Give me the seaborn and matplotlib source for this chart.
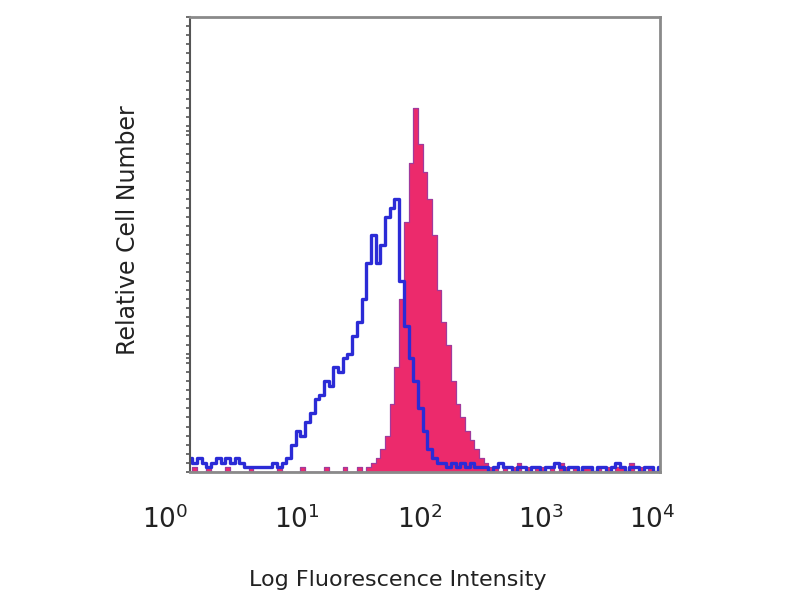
import numpy as np
import matplotlib
matplotlib.use("Agg")
import matplotlib.pyplot as plt
import seaborn as sns
from matplotlib.ticker import MultipleLocator, LogLocator, NullFormatter

# bin centres in decades (log10 of intensity), 0.04 decade wide
log_bins = np.round(np.arange(0, 4.0001, 0.04), 2)

# isotype control (blue outline)
control_counts = [
    3, 2, 3, 2, 1, 2, 3, 2, 3, 2, 3, 2, 1, 1, 1, 1, 1, 1, 2, 1, 2, 3,
    6, 9, 8, 11, 13, 16, 17, 20, 19, 23, 22, 25, 26, 30, 33, 38, 46, 52,
    46, 50, 56, 58, 60, 42, 32, 25, 20, 14, 9, 5, 3, 2, 2, 1, 2, 1, 2, 1,
    2, 1,
    1, 1, 0, 1, 2, 1, 1, 0, 1, 1, 0, 1, 1, 0, 1, 1, 2, 1, 0, 1, 1, 0, 1, 1,
    0, 1, 1, 0, 1, 2, 1, 0, 1, 1, 0, 1, 1, 0, 1,
]

# stained sample (pink filled)
stained_counts = [
    0, 1, 0, 0, 1, 0, 0, 0, 1, 0, 0, 0, 0, 1, 0, 0, 0, 0, 0, 1, 0, 0,
    0, 0, 1, 0, 0, 0, 0, 1, 0, 0, 0, 1, 0, 0, 1, 0, 1,
    2, 3, 5, 8, 15, 23, 38, 55, 68, 80, 72, 66, 60, 52, 40, 33, 28, 20, 15,
    12, 9, 7, 5, 3, 2, 1,
    1, 0, 1, 0, 1, 2, 0, 1, 0, 1, 1, 0, 1, 0, 2, 1, 0, 1, 0, 1, 1, 0, 1, 0,
    1, 0, 1, 1, 0, 2, 0, 1, 0, 1, 0, 1,
]

tick_texts = ["$10^0$", "$10^1$", "$10^2$", "$10^3$", "$10^4$"]
tick_xpos = [165, 297, 420, 541, 652]  # pixel centres of the big labels

intensity = 10 ** log_bins

sns.set_style("white")
fig = plt.figure(figsize=(8, 6), dpi=100)
ax = fig.add_axes([190 / 800, 1 - 472 / 600, 470 / 800, 455 / 600])

sns.histplot(x=intensity, weights=stained_counts, log_scale=True,
             binwidth=0.04, binrange=(-0.02, 4.02), element="step",
             fill=True, color="#ec2a6c", alpha=1.0, edgecolor="#a03a9c",
             linewidth=0.9, ax=ax)
sns.histplot(x=intensity, weights=control_counts, log_scale=True,
             binwidth=0.04, binrange=(-0.02, 4.02), element="step",
             fill=False, color="#2b2bd6", linewidth=2.4, ax=ax)

ax.set_xlim(1, 1e4)
ax.set_ylim(0, 100)
ax.set_xlabel("")
ax.set_ylabel("")

ax.xaxis.set_major_locator(LogLocator(base=10, numticks=10))
ax.xaxis.set_minor_locator(LogLocator(base=10, subs=np.arange(2, 10), numticks=20))
ax.xaxis.set_major_formatter(NullFormatter())
ax.xaxis.set_minor_formatter(NullFormatter())
ax.yaxis.set_major_locator(MultipleLocator(25))
ax.yaxis.set_minor_locator(MultipleLocator(2))
ax.yaxis.set_major_formatter(NullFormatter())
ax.tick_params(axis="x", which="major", direction="in", length=6, color="#777777", width=1.2)
ax.tick_params(axis="x", which="minor", direction="in", length=3, color="#999999")
ax.tick_params(axis="y", which="both", direction="out", length=3, color="#555555", width=1.2, left=True)

for side in ["top", "right", "bottom"]:
    ax.spines[side].set_color("#8a8a8a")
    ax.spines[side].set_linewidth(2)
ax.spines["left"].set_color("#555555")
ax.spines["left"].set_linewidth(1.5)

for txt, xp in zip(tick_texts, tick_xpos):
    fig.text(xp / 800, 1 - 520 / 600, txt, ha="center", va="center",
             fontsize=19, color="#222222")

fig.text(398 / 800, 1 - 580 / 600, "Log Fluorescence Intensity",
         ha="center", va="center", fontsize=16, color="#222222")
fig.text(128 / 800, 1 - 230 / 600, "Relative Cell Number", rotation=90,
         ha="center", va="center", fontsize=17, color="#222222")

fig.savefig("out.png", dpi=100)
